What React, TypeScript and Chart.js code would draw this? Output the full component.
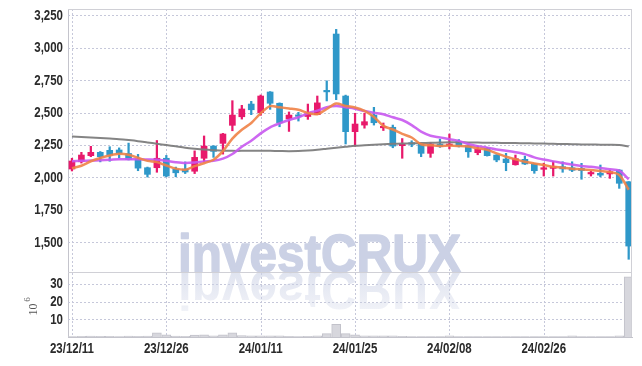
import { useEffect, useRef } from 'react';
import { Chart, registerables } from 'chart.js';

Chart.register(...registerables);

const dates = [
  '23/12/11', '23/12/12', '23/12/13', '23/12/14', '23/12/15', '23/12/18', '23/12/19', '23/12/20', '23/12/21', '23/12/22',
  '23/12/26', '23/12/27', '23/12/28', '24/01/02', '24/01/03', '24/01/04', '24/01/05', '24/01/08', '24/01/09', '24/01/10',
  '24/01/11', '24/01/12', '24/01/15', '24/01/16', '24/01/17', '24/01/18', '24/01/19', '24/01/22', '24/01/23', '24/01/24',
  '24/01/25', '24/01/26', '24/01/29', '24/01/30', '24/01/31', '24/02/01', '24/02/02', '24/02/05', '24/02/06', '24/02/07',
  '24/02/08', '24/02/13', '24/02/14', '24/02/15', '24/02/16', '24/02/19', '24/02/20', '24/02/21', '24/02/22', '24/02/23',
  '24/02/26', '24/02/27', '24/02/28', '24/02/29', '24/03/04', '24/03/05', '24/03/06', '24/03/07', '24/03/08', '24/03/11',
];

const opens = [
  2065, 2121, 2168, 2194, 2209, 2212, 2185, 2143, 2075, 2075,
  2148, 2063, 2065, 2048, 2148, 2242, 2263, 2402, 2468, 2566,
  2499, 2659, 2572, 2451, 2478, 2470, 2484, 2667, 3106, 2628,
  2353, 2404, 2481, 2383, 2387, 2245, 2268, 2258, 2186, 2258,
  2245, 2278, 2245, 2191, 2225, 2173, 2142, 2098, 2140, 2104,
  2063, 2070, 2083, 2075, 2070, 2027, 2032, 2027, 2057, 1967,
];
const highs = [
  2148, 2194, 2240, 2200, 2237, 2228, 2265, 2178, 2080, 2285,
  2170, 2080, 2120, 2205, 2320, 2245, 2340, 2592, 2556, 2587,
  2636, 2662, 2575, 2505, 2502, 2566, 2628, 2745, 3142, 2635,
  2495, 2495, 2541, 2420, 2404, 2300, 2283, 2262, 2268, 2296,
  2335, 2292, 2250, 2242, 2232, 2176, 2186, 2173, 2165, 2106,
  2110, 2125, 2121, 2121, 2109, 2050, 2096, 2057, 2060, 1968,
];
const lows = [
  2050, 2111, 2160, 2120, 2125, 2150, 2135, 2052, 2003, 2040,
  2005, 2005, 2030, 2030, 2120, 2155, 2180, 2360, 2450, 2484,
  2479, 2525, 2391, 2355, 2435, 2448, 2484, 2590, 2600, 2258,
  2240, 2380, 2404, 2362, 2229, 2148, 2237, 2160, 2155, 2232,
  2220, 2235, 2155, 2175, 2165, 2121, 2052, 2095, 2100, 2032,
  2011, 2011, 2040, 2045, 1986, 2011, 2005, 1993, 1916, 1369,
];
const closes = [
  2127, 2173, 2194, 2160, 2173, 2186, 2138, 2072, 2024, 2148,
  2011, 2036, 2042, 2155, 2242, 2201, 2335, 2481, 2528, 2522,
  2628, 2572, 2422, 2481, 2471, 2489, 2575, 2660, 2644, 2353,
  2412, 2430, 2422, 2392, 2242, 2256, 2255, 2186, 2258, 2240,
  2258, 2242, 2198, 2217, 2168, 2135, 2114, 2145, 2104, 2052,
  2075, 2083, 2066, 2055, 2053, 2037, 2018, 2045, 1955, 1471,
];

// moving-average lines
const maShort = [
  2072, 2090, 2125, 2150, 2170, 2183, 2175, 2152, 2128, 2118,
  2092, 2068, 2060, 2087, 2110, 2137, 2203, 2300, 2368, 2420,
  2495, 2550, 2541, 2532, 2522, 2498, 2488, 2528, 2570, 2551,
  2540, 2513, 2466, 2398, 2370, 2336, 2308, 2256, 2248, 2243,
  2246, 2243, 2238, 2225, 2213, 2186, 2160, 2140, 2121, 2108,
  2096, 2083, 2075, 2068, 2063, 2057, 2050, 2042, 2019, 1905,
];
const maMid = [
  2125, 2128, 2130, 2133, 2136, 2140, 2140, 2140, 2138, 2136,
  2128, 2118, 2112, 2116, 2124, 2128, 2145, 2181, 2237, 2283,
  2340, 2387, 2417, 2443, 2464, 2495, 2515, 2541, 2551, 2541,
  2530, 2512, 2499, 2487, 2464, 2443, 2404, 2353, 2322, 2309,
  2295, 2282, 2258, 2240, 2230, 2215, 2206, 2195, 2180, 2155,
  2138, 2124, 2112, 2099, 2088, 2083, 2073, 2064, 2052, 1986,
];
const maLong = [
  2315, 2312, 2309, 2305, 2300, 2295, 2288, 2280, 2270, 2260,
  2250, 2240, 2230, 2222, 2215, 2210, 2206, 2205, 2205, 2205,
  2205, 2205, 2204, 2203, 2204, 2208, 2214, 2222, 2230, 2237,
  2244, 2248, 2252, 2256, 2259, 2261, 2263, 2265, 2267, 2269,
  2271, 2271, 2270, 2269, 2268, 2267, 2266, 2265, 2264, 2262,
  2261, 2259, 2258, 2257, 2255, 2254, 2253, 2252, 2250, 2238,
];

// volume in millions
const volumes = [
  0.3, 0.4, 0.5, 0.4, 0.4, 0.3, 0.5, 0.4, 0.5, 2.4,
  1.2, 0.5, 0.4, 1.1, 1.2, 0.6, 1.2, 2.4, 0.8, 0.6,
  0.6, 0.6, 0.6, 0.4, 0.3, 0.4, 0.6, 1.9, 7.1, 1.9,
  1.2, 0.7, 0.6, 0.6, 0.7, 0.4, 0.3, 0.3, 0.3, 0.3,
  0.6, 0.3, 0.3, 0.3, 0.3, 0.2, 0.3, 0.2, 0.2, 0.3,
  0.2, 0.2, 0.3, 0.6, 0.3, 0.2, 0.3, 0.2, 0.6, 34,
];

const priceTicks = [1500, 1750, 2000, 2250, 2500, 2750, 3000, 3250];
const volumeTicks = [10, 20, 30];
const labeledIndices = [0, 10, 20, 30, 40, 50];

const UP = '#e8196b';
const DOWN = '#2f98c9';
const GRID = '#c6c8da';
const FRAME = '#d0d0d6';
const LABEL_FONT = 'bold 14px "Liberation Sans", Arial, sans-serif';
const LABEL_SX = 0.82;
const TICK_COLOR = '#2a2a2a';

const candleColor = (i: number) => (closes[i] >= opens[i] ? UP : DOWN);

function drawLabel(ctx: CanvasRenderingContext2D, text: string, x: number, y: number, align: CanvasTextAlign) {
  ctx.save();
  ctx.translate(x, y);
  ctx.scale(LABEL_SX, 1);
  ctx.font = LABEL_FONT;
  ctx.fillStyle = TICK_COLOR;
  ctx.textAlign = align;
  ctx.textBaseline = 'middle';
  ctx.fillText(text, 0, 0);
  ctx.restore();
}

const decorPlugin = {
  id: 'decor',
  beforeDraw(chart: any) {
    const { ctx } = chart;
    ctx.save();
    ctx.fillStyle = '#ffffff';
    ctx.fillRect(0, 0, chart.width, chart.height);
    ctx.restore();
  },
  beforeDatasetsDraw(chart: any) {
    const { ctx, chartArea, scales } = chart;
    const { left: L, right: R, top: T, bottom: B } = chartArea;

    // dotted grid, positioned by the scales
    ctx.save();
    ctx.strokeStyle = GRID;
    ctx.lineWidth = 1;
    ctx.setLineDash([2, 2]);
    ctx.beginPath();
    priceTicks.forEach((v) => {
      const y = Math.round(scales.y.getPixelForValue(v)) + 0.5;
      ctx.moveTo(L, y);
      ctx.lineTo(R, y);
    });
    volumeTicks.forEach((v) => {
      const y = Math.round(scales.yv.getPixelForValue(v)) + 0.5;
      ctx.moveTo(L, y);
      ctx.lineTo(R, y);
    });
    labeledIndices.forEach((i) => {
      const x = Math.round(scales.x.getPixelForValue(i)) + 0.5;
      ctx.moveTo(x, T);
      ctx.lineTo(x, B);
    });
    ctx.stroke();
    ctx.restore();

    // watermark
    const yBase = scales.y.bottom;
    const text = 'investCRUX';
    const left = 178;
    const targetW = 283;
    ctx.save();
    ctx.beginPath();
    ctx.rect(L, T, R - L, B - T);
    ctx.clip();
    ctx.font = 'bold 54px "Liberation Sans", Arial, sans-serif';
    const w = ctx.measureText(text).width;
    const sx = targetW / w;
    ctx.lineJoin = 'round';
    ctx.save();
    ctx.translate(left, yBase);
    ctx.scale(sx, 1);
    ctx.fillStyle = 'rgb(203,209,229)';
    ctx.strokeStyle = 'rgb(203,209,229)';
    ctx.lineWidth = 1.5;
    ctx.textBaseline = 'alphabetic';
    ctx.fillText(text, 0, 0);
    ctx.strokeText(text, 0, 0);
    ctx.restore();
    ctx.save();
    ctx.translate(left, yBase);
    ctx.scale(sx, -1);
    const g = ctx.createLinearGradient(0, 0, 0, -42);
    g.addColorStop(0, 'rgba(203,209,229,0.6)');
    g.addColorStop(1, 'rgba(203,209,229,0.25)');
    ctx.fillStyle = g;
    ctx.fillText(text, 0, 0);
    ctx.restore();
    ctx.restore();
  },
  afterDraw(chart: any) {
    const { ctx, chartArea, scales } = chart;
    const sep = scales.y.bottom;
    ctx.save();
    ctx.strokeStyle = FRAME;
    ctx.lineWidth = 1;
    ctx.beginPath();
    ctx.moveTo(chartArea.left, chartArea.top + 0.5);
    ctx.lineTo(chartArea.right, chartArea.top + 0.5);
    ctx.moveTo(chartArea.left, Math.round(sep) + 0.5);
    ctx.lineTo(chartArea.right, Math.round(sep) + 0.5);
    ctx.moveTo(chartArea.right - 0.5, chartArea.top);
    ctx.lineTo(chartArea.right - 0.5, chartArea.bottom);
    ctx.stroke();
    ctx.restore();

    // tick labels (positions from the library's scales)
    priceTicks.forEach((v) => drawLabel(ctx, v.toLocaleString('en-US'), 63, scales.y.getPixelForValue(v) + 0.5, 'right'));
    volumeTicks.forEach((v) => drawLabel(ctx, String(v), 63, scales.yv.getPixelForValue(v) + 0.5, 'right'));
    labeledIndices.forEach((i) => drawLabel(ctx, dates[i], scales.x.getPixelForValue(i), 349, 'center'));

    // 10^6 label for the volume axis
    const yv = scales.yv;
    const cy = (yv.top + yv.bottom) / 2 + 5;
    ctx.save();
    ctx.translate(34, cy);
    ctx.rotate(-Math.PI / 2);
    ctx.fillStyle = '#555555';
    ctx.textAlign = 'center';
    ctx.textBaseline = 'middle';
    ctx.font = '12px "Liberation Serif", "DejaVu Serif", serif';
    ctx.fillText('10', 0, 0);
    ctx.font = '9px "Liberation Serif", "DejaVu Serif", serif';
    ctx.fillText('6', 10, -6);
    ctx.restore();
  },
};

export default function App() {
  const ref = useRef<HTMLCanvasElement | null>(null);

  useEffect(() => {
    document.body.style.margin = '0';
    if (!ref.current) return;
    const idx = dates.map((_, i) => i);
    const chart = new Chart(ref.current, {
      type: 'bar',
      data: {
        datasets: [
          {
            type: 'line',
            label: 'MA short',
            data: idx.map((i) => ({ x: i, y: maShort[i] })),
            borderColor: 'rgba(240,130,70,0.9)',
            borderWidth: 2.5,
            pointRadius: 0,
            tension: 0.3,
            yAxisID: 'y',
            order: 1,
          } as any,
          {
            type: 'line',
            label: 'MA mid',
            data: idx.map((i) => ({ x: i, y: maMid[i] })),
            borderColor: 'rgba(200,88,240,0.9)',
            borderWidth: 2.5,
            pointRadius: 0,
            tension: 0.3,
            yAxisID: 'y',
            order: 2,
          },
          {
            type: 'line',
            label: 'MA long',
            data: idx.map((i) => ({ x: i, y: maLong[i] })),
            borderColor: 'rgba(125,125,125,0.95)',
            borderWidth: 2,
            pointRadius: 0,
            tension: 0.3,
            yAxisID: 'y',
            order: 3,
          },
          {
            type: 'bar',
            label: 'body',
            data: idx.map((i) => ({ x: i, y: [opens[i], closes[i]] })),
            backgroundColor: (c: any) => candleColor(c.dataIndex),
            barThickness: 6,
            minBarLength: 1.5,
            grouped: false,
            yAxisID: 'y',
            order: 5,
          },
          {
            type: 'bar',
            label: 'wick',
            data: idx.map((i) => ({ x: i, y: [lows[i], highs[i]] })),
            backgroundColor: (c: any) => candleColor(c.dataIndex),
            barThickness: 1.6,
            grouped: false,
            yAxisID: 'y',
            order: 6,
          },
          {
            type: 'bar',
            label: 'volume',
            data: idx.map((i) => ({ x: i, y: volumes[i] })),
            backgroundColor: '#d7d7dd',
            borderColor: '#c2c2ca',
            borderWidth: 1,
            barThickness: 9,
            grouped: false,
            yAxisID: 'yv',
            order: 7,
          },
        ] as any,
      },
      options: {
        animation: false,
        responsive: false,
        maintainAspectRatio: false,
        layout: { padding: { top: 9, right: 10, left: 0, bottom: 0 } },
        plugins: { legend: { display: false }, tooltip: { enabled: false } },
        scales: {
          x: {
            type: 'linear',
            min: -0.42,
            max: 59.35,
            offset: false,
            afterBuildTicks: (s: any) => {
              s.ticks = labeledIndices.map((v) => ({ value: v }));
            },
            afterFit: (s: any) => {
              s.height = 29;
            },
            ticks: { display: false },
            grid: { display: false },
            border: { display: true, color: '#c4c4cc' },
          },
          yv: {
            type: 'linear',
            position: 'left',
            stack: 'main',
            stackWeight: 65,
            min: 0,
            max: 36.7,
            afterBuildTicks: (s: any) => {
              s.ticks = volumeTicks.map((v) => ({ value: v }));
            },
            afterFit: (s: any) => {
              s.width = 68;
            },
            ticks: { display: false },
            grid: { display: false },
            border: { display: true, color: '#c4c4cc' },
          },
          y: {
            type: 'linear',
            position: 'left',
            stack: 'main',
            stackWeight: 263,
            min: 1271,
            max: 3299,
            afterBuildTicks: (s: any) => {
              s.ticks = priceTicks.map((v) => ({ value: v }));
            },
            afterFit: (s: any) => {
              s.width = 68;
            },
            ticks: { display: false },
            grid: { display: false },
            border: { display: true, color: '#c4c4cc' },
          },
        } as any,
      },
      plugins: [decorPlugin],
    });
    return () => chart.destroy();
  }, []);

  return (
    <div style={{ width: 642, height: 366 }}>
      <canvas ref={ref} width={642} height={366} style={{ display: 'block', width: 642, height: 366 }} />
    </div>
  );
}
